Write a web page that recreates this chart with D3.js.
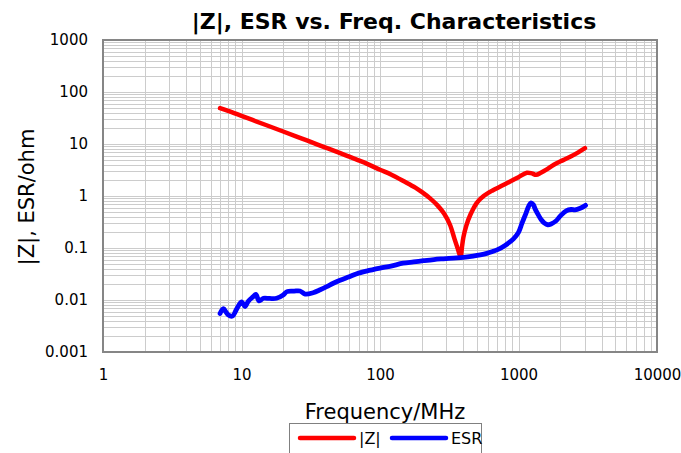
<!DOCTYPE html>
<html>
<head>
<meta charset="utf-8">
<script src="https://cdn.jsdelivr.net/npm/d3@7"></script>
<style>
  body { margin: 0; background: #fff; }
  text { font-family: "DejaVu Sans", Verdana, sans-serif; fill: #000; }
</style>
</head>
<body>
<svg id="chart" width="681" height="453"></svg>
<script>
// |Z| curve (MHz, ohm)
const zFreq = [7, 8, 10, 12, 15, 20, 25, 30, 40, 50, 60, 70, 80, 100, 120, 150, 180, 200, 230, 260, 290, 320, 345, 365, 378, 383, 390, 400, 420, 450, 500, 560, 650, 750, 870, 1000, 1150, 1250, 1340, 1450, 1600, 1800, 2100, 2400, 2700, 3020];
const zValues = [49, 43.5, 34.8, 29, 23.2, 17.4, 13.9, 11.6, 8.6, 6.9, 5.7, 4.85, 4.2, 3.2, 2.6, 1.9, 1.45, 1.2, 0.9, 0.66, 0.46, 0.28, 0.15, 0.095, 0.072, 0.068, 0.1, 0.16, 0.27, 0.44, 0.74, 1.0, 1.28, 1.55, 1.9, 2.3, 2.8, 2.72, 2.55, 2.8, 3.25, 4.0, 4.9, 5.8, 6.9, 8.3];

// ESR curve (MHz, ohm)
const esrFreq = [7, 7.4, 7.75, 8.0, 8.6, 9.2, 10.0, 10.6, 11.2, 12.1, 12.7, 13.4, 14.4, 16, 17.9, 20, 21.3, 24, 26.4, 28.8, 32.9, 37, 41.2, 46, 51.5, 60, 68, 80, 100, 120, 147, 175, 206, 245, 287, 340, 400, 470, 530, 590, 650, 700, 800, 920, 1000, 1060, 1130, 1190, 1231, 1280, 1320, 1400, 1460, 1540, 1627, 1720, 1863, 2000, 2210, 2400, 2555, 2790, 3048];
const esrValues = [0.0055, 0.0068, 0.0058, 0.0052, 0.0049, 0.0066, 0.0092, 0.0075, 0.0095, 0.0115, 0.0128, 0.0096, 0.0108, 0.0107, 0.0108, 0.0125, 0.0145, 0.0148, 0.0149, 0.013, 0.0138, 0.0157, 0.018, 0.021, 0.024, 0.028, 0.032, 0.036, 0.041, 0.045, 0.051, 0.054, 0.057, 0.06, 0.062, 0.064, 0.066, 0.07, 0.074, 0.079, 0.086, 0.092, 0.112, 0.15, 0.2, 0.3, 0.46, 0.65, 0.74, 0.68, 0.56, 0.42, 0.35, 0.3, 0.28, 0.29, 0.33, 0.41, 0.52, 0.55, 0.54, 0.58, 0.66];

const xTicks = [1, 10, 100, 1000, 10000];
const yTicks = [0.001, 0.01, 0.1, 1, 10, 100, 1000];
const seriesNames = ['|Z|', 'ESR'];

const svg = d3.select('#chart');
const margin = { left: 103, top: 40, right: 24, bottom: 101 },
  width = 681, height = 453;

const x = d3.scaleLog().domain([1, 10000]).range([margin.left, width - margin.right]);
const y = d3.scaleLog().domain([0.001, 1000]).range([height - margin.bottom, margin.top]);

// grid (major + minor)
const grid = svg.append('g').attr('stroke', '#cccccc').attr('stroke-width', 1);
grid.selectAll('.gx').data(x.ticks()).enter().append('line')
  .attr('x1', d => Math.round(x(d)) + 0.5).attr('x2', d => Math.round(x(d)) + 0.5)
  .attr('y1', y.range()[1]).attr('y2', y.range()[0]);
grid.selectAll('.gy').data(y.ticks()).enter().append('line')
  .attr('y1', d => Math.round(y(d)) + 0.5).attr('y2', d => Math.round(y(d)) + 0.5)
  .attr('x1', x.range()[0]).attr('x2', x.range()[1]);

// plot border
svg.append('rect')
  .attr('x', x.range()[0]).attr('y', y.range()[1])
  .attr('width', x.range()[1] - x.range()[0]).attr('height', y.range()[0] - y.range()[1])
  .attr('fill', 'none').attr('stroke', '#868686').attr('stroke-width', 2);

// axes, labels only
const xAxis = svg.append('g')
  .attr('transform', `translate(0,${y.range()[0]})`)
  .call(d3.axisBottom(x).tickValues(xTicks).tickFormat(d3.format('')).tickSize(0).tickPadding(17));
xAxis.select('.domain').remove();
xAxis.selectAll('text').style('font-size', '15px').style('font-family', '"DejaVu Sans", Verdana, sans-serif');

const yAxis = svg.append('g')
  .attr('transform', `translate(${x.range()[0]},0)`)
  .call(d3.axisLeft(y).tickValues(yTicks).tickFormat(d3.format('')).tickSize(0).tickPadding(15));
yAxis.select('.domain').remove();
yAxis.selectAll('text').style('font-size', '15px').style('font-family', '"DejaVu Sans", Verdana, sans-serif');

// curves
const line = d3.line()
  .x(d => x(d[0]))
  .y(d => y(d[1]))
  .curve(d3.curveCatmullRom.alpha(0.5));

const zData = zFreq.map((f, i) => [f, zValues[i]]);
const esrData = esrFreq.map((f, i) => [f, esrValues[i]]);

svg.append('path').attr('d', line(zData))
  .attr('fill', 'none').attr('stroke', '#ff0000').attr('stroke-width', 4.5)
  .attr('stroke-linecap', 'round').attr('stroke-linejoin', 'round');
svg.append('path').attr('d', line(esrData))
  .attr('fill', 'none').attr('stroke', '#0000ff').attr('stroke-width', 4.8)
  .attr('stroke-linecap', 'round').attr('stroke-linejoin', 'round');

// titles
svg.append('text')
  .attr('x', 394).attr('y', 29)
  .attr('text-anchor', 'middle')
  .style('font-size', '22px').style('font-weight', 'bold')
  .text('|Z|, ESR vs. Freq. Characteristics');

svg.append('text')
  .attr('x', 385).attr('y', 419)
  .attr('text-anchor', 'middle')
  .style('font-size', '21px')
  .text('Frequency/MHz');

svg.append('text')
  .attr('transform', 'translate(34,197) rotate(-90)')
  .attr('text-anchor', 'middle')
  .style('font-size', '21px')
  .text('|Z|, ESR/ohm');

// legend
const legend = svg.append('g');
legend.append('rect')
  .attr('x', 289.5).attr('y', 423.5).attr('width', 192).attr('height', 40)
  .attr('fill', '#fff').attr('stroke', '#808080').attr('stroke-width', 1);
const legColors = ['#ff0000', '#0000ff'];
const legX = [300, 392];
seriesNames.forEach((name, i) => {
  legend.append('line')
    .attr('x1', legX[i]).attr('x2', legX[i] + 54)
    .attr('y1', 438).attr('y2', 438)
    .attr('stroke', legColors[i]).attr('stroke-width', 4.5).attr('stroke-linecap', 'round');
  legend.append('text')
    .attr('x', legX[i] + 59).attr('y', 444)
    .style('font-size', '16px')
    .text(name);
});
</script>
</body>
</html>
